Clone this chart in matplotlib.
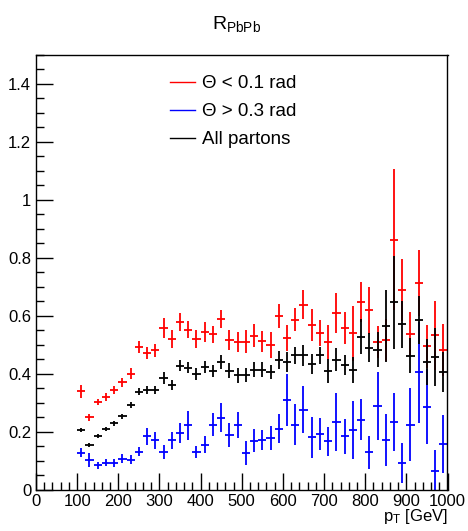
import numpy as np
import matplotlib
matplotlib.use("Agg")
from matplotlib import pyplot as plt
from matplotlib.lines import Line2D
from matplotlib.ticker import MultipleLocator

plt.rcParams['font.family'] = ['Liberation Sans', 'DejaVu Sans']
plt.rcParams['mathtext.fontset'] = 'custom'
plt.rcParams['mathtext.rm'] = 'Liberation Sans'
plt.rcParams['mathtext.it'] = 'Liberation Sans'

# bin centres (20 GeV bins)
pt = np.arange(110, 1000, 20)

# Theta < 0.1 rad
r_small = [0.339, 0.249, 0.302, 0.320, 0.345, 0.370, 0.400, 0.492, 0.471, 0.480,
           0.557, 0.520, 0.578, 0.552, 0.520, 0.543, 0.536, 0.589, 0.515, 0.509,
           0.510, 0.531, 0.511, 0.500, 0.599, 0.522, 0.586, 0.638, 0.569, 0.540,
           0.509, 0.609, 0.557, 0.540, 0.647, 0.618, 0.508, 0.517, 0.862, 0.690,
           0.536, 0.713, 0.494, 0.532, 0.483]
e_small = [0.022, 0.012, 0.012, 0.013, 0.014, 0.015, 0.018, 0.022, 0.022, 0.022,
           0.035, 0.030, 0.030, 0.030, 0.030, 0.035, 0.030, 0.030, 0.035, 0.035,
           0.040, 0.040, 0.035, 0.045, 0.040, 0.045, 0.040, 0.050, 0.055, 0.045,
           0.060, 0.070, 0.055, 0.095, 0.070, 0.080, 0.055, 0.073, 0.244, 0.107,
           0.076, 0.115, 0.074, 0.120, 0.090]

# Theta > 0.3 rad
r_large = [0.127, 0.101, 0.084, 0.092, 0.092, 0.106, 0.103, 0.130, 0.184, 0.170,
           0.129, 0.170, 0.195, 0.222, 0.129, 0.155, 0.224, 0.248, 0.188, 0.224,
           0.126, 0.169, 0.172, 0.178, 0.210, 0.310, 0.224, 0.276, 0.180, 0.193,
           0.167, 0.233, 0.184, 0.205, 0.241, 0.128, 0.288, 0.172, 0.232, 0.092,
           0.223, 0.404, 0.286, 0.065, 0.157]
e_large = [0.016, 0.025, 0.012, 0.012, 0.015, 0.015, 0.015, 0.015, 0.030, 0.030,
           0.025, 0.030, 0.035, 0.050, 0.020, 0.030, 0.040, 0.050, 0.040, 0.045,
           0.040, 0.040, 0.035, 0.040, 0.050, 0.090, 0.070, 0.080, 0.070, 0.055,
           0.050, 0.100, 0.060, 0.100, 0.070, 0.057, 0.118, 0.090, 0.100, 0.070,
           0.126, 0.175, 0.130, 0.070, 0.100]

# all partons
r_all = [0.205, 0.155, 0.184, 0.209, 0.228, 0.253, 0.291, 0.337, 0.343, 0.345,
         0.385, 0.360, 0.428, 0.421, 0.399, 0.423, 0.409, 0.440, 0.410, 0.394,
         0.395, 0.414, 0.414, 0.406, 0.447, 0.439, 0.463, 0.463, 0.433, 0.463,
         0.409, 0.448, 0.429, 0.411, 0.527, 0.489, 0.483, 0.565, 0.646, 0.570,
         0.462, 0.584, 0.441, 0.459, 0.405]
e_all = [0.007, 0.007, 0.007, 0.008, 0.008, 0.009, 0.010, 0.012, 0.013, 0.014,
         0.020, 0.018, 0.020, 0.020, 0.020, 0.022, 0.020, 0.025, 0.025, 0.025,
         0.025, 0.025, 0.025, 0.025, 0.030, 0.035, 0.030, 0.035, 0.035, 0.030,
         0.040, 0.040, 0.035, 0.045, 0.060, 0.050, 0.060, 0.124, 0.160, 0.080,
         0.060, 0.083, 0.080, 0.100, 0.068]

fig = plt.figure(figsize=(4.68, 5.31), dpi=100)
ax = fig.add_axes([36/468, 1 - 489.5/531, (447.5-36)/468, (489.5-55)/531])

ax.errorbar(pt, r_small, xerr=10, yerr=e_small, fmt='none', ecolor='red', elinewidth=1.3, capsize=0)
ax.errorbar(pt, r_large, xerr=10, yerr=e_large, fmt='none', ecolor='blue', elinewidth=1.3, capsize=0)
ax.errorbar(pt, r_all, xerr=10, yerr=e_all, fmt='none', ecolor='black', elinewidth=1.3, capsize=0)

ax.set_xlim(0, 1000)
ax.set_ylim(0, 1.5)
ax.xaxis.set_major_locator(MultipleLocator(100))
ax.xaxis.set_minor_locator(MultipleLocator(20))
ax.yaxis.set_major_locator(MultipleLocator(0.2))
ax.yaxis.set_minor_locator(MultipleLocator(0.05))
ax.yaxis.set_major_formatter(matplotlib.ticker.FuncFormatter(lambda v, p: f"{v:g}"))
ax.tick_params(which='both', direction='in', top=False, right=False, labelsize=12)
ax.tick_params(which='major', length=12, width=1)
ax.tick_params(which='minor', length=6, width=1)
ax.tick_params(axis='x', pad=3)
for s in ax.spines.values():
    s.set_linewidth(1)

ax.set_xlabel(r'$\mathrm{p}_{\mathrm{T}}$ [GeV]', fontsize=12, loc='right', labelpad=-1)

fig.text(0.505, 0.955, r'$\mathrm{R}_{\mathrm{PbPb}}$', fontsize=14, ha='center', va='center')

handles = [Line2D([], [], color='red', lw=1),
           Line2D([], [], color='blue', lw=1),
           Line2D([], [], color='black', lw=1)]
labels = ['Θ < 0.1 rad', 'Θ > 0.3 rad', 'All partons']
ax.legend(handles, labels, loc='upper left', bbox_to_anchor=(0.326, 0.954), frameon=False,
          fontsize=13.5, handlelength=1.33, handletextpad=0.37, labelspacing=0.58,
          borderpad=0, borderaxespad=0)

plt.savefig('out.png')
